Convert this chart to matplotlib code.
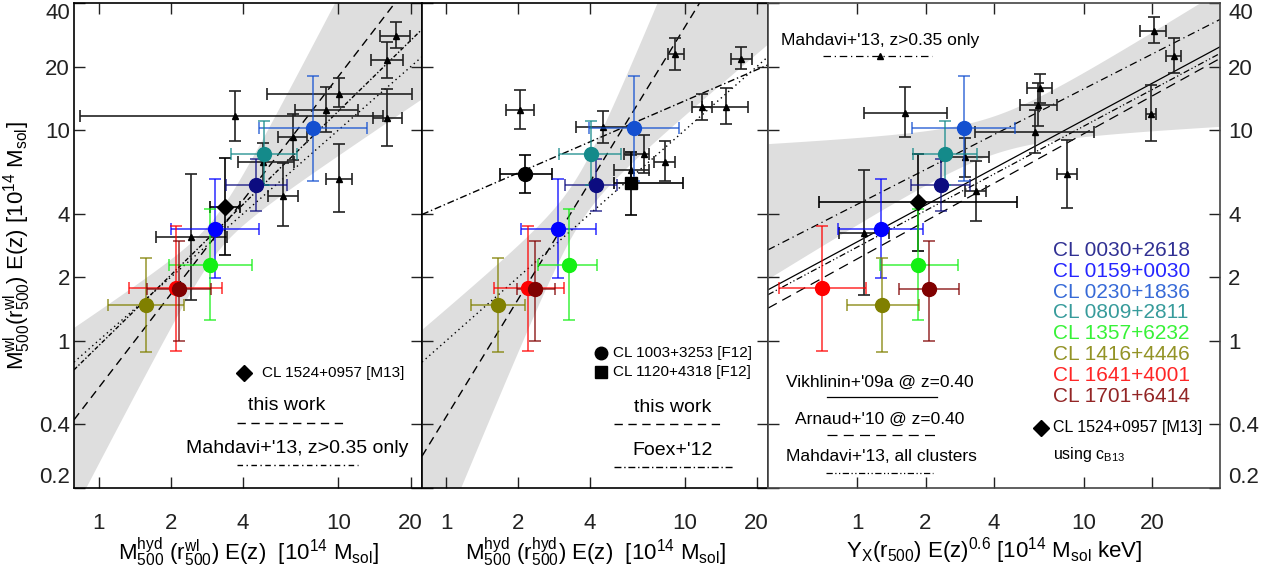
import numpy as np
import matplotlib
matplotlib.use("Agg")
import matplotlib.pyplot as plt
from matplotlib.ticker import NullLocator

plt.rcParams['font.family'] = ['Liberation Sans', 'DejaVu Sans']
plt.rcParams['mathtext.fontset'] = 'custom'
plt.rcParams['mathtext.rm'] = 'Liberation Sans'
plt.rcParams['mathtext.it'] = 'Liberation Sans:italic'

# clusters of this work (order: 0030, 0159, 0230, 0809, 1357, 1416, 1641, 1701)
names = ['CL 0030+2618', 'CL 0159+0030', 'CL 0230+1836', 'CL 0809+2811',
         'CL 1357+6232', 'CL 1416+4446', 'CL 1641+4001', 'CL 1701+6414']
colors = ['#0c0c80', '#0000ff', '#1450d0', '#148a8a',
          '#14f014', '#808000', '#ff0000', '#800000']
m_wl = [5.5, 3.4, 10.2, 7.7, 2.29, 1.47, 1.77, 1.755]
m_wl_lo = [4.13, 1.98, 5.7, 5.5, 1.25, 0.88, 0.89, 1.0]
m_wl_hi = [7.3, 5.86, 18.0, 11.1, 4.2, 2.46, 3.5, 2.98]

# left: M_hyd(r_wl)
mh_rwl = [4.53, 3.06, 7.8, 4.9, 2.92, 1.58, 2.1, 2.16]
mh_rwl_lo = [3.4, 2.0, 4.65, 3.55, 1.97, 1.09, 1.34, 1.59]
mh_rwl_hi = [6.1, 4.67, 13.1, 6.75, 4.38, 2.27, 3.27, 2.94]
# middle: M_hyd(r_hyd)
mh_rh = [4.22, 2.95, 6.14, 4.03, 3.25, 1.64, 2.2, 2.35]
mh_rh_lo = [3.14, 2.05, 3.95, 2.97, 2.43, 1.27, 1.59, 1.97]
mh_rh_hi = [5.2, 4.22, 9.44, 5.42, 4.28, 2.14, 3.12, 2.85]
# right: Y_X
yx = [2.33, 1.27, 2.96, 2.44, 1.86, 1.29, 0.70, 2.08]
yx_lo = [1.72, 0.82, 1.75, 1.77, 1.26, 0.90, 0.45, 1.53]
yx_hi = [3.14, 1.94, 4.96, 3.36, 2.77, 1.87, 1.09, 2.82]

# CL 1524+0957 [M13]
m13_left = dict(x=3.38, xlo=2.92, xhi=3.9, y=4.33, ylo=2.55, yhi=7.4)
m13_right = dict(x=1.86, xlo=0.68, xhi=5.08, y=4.54, ylo=2.67, yhi=7.7)

# F12 clusters (middle)
f12_1003 = dict(x=2.14, xlo=1.68, xhi=2.76, y=6.2, ylo=5.0, yhi=7.6)
f12_1120 = dict(x=5.93, xlo=5.04, xhi=9.84, y=5.6, ylo=3.95, yhi=7.9)

# Mahdavi+13 z>0.35 clusters
mah_l_x = [17.3, 15.9, 10.1, 8.9, 3.71, 16.0, 6.46, 4.87, 10.07, 5.87, 2.43]
mah_l_xlo = [14.9, 13.7, 5.03, 6.58, 0.84, 13.9, 5.62, 3.8, 8.9, 5.08, 1.73]
mah_l_xhi = [19.8, 18.5, 20.3, 12.05, 15.4, 18.4, 7.4, 6.5, 11.4, 6.78, 3.43]
mah_l_y = [28, 21.5, 14.9, 12.4, 11.6, 11.4, 9.3, 7.03, 5.85, 4.86, 3.1]
mah_l_ylo = [24.4, 17.6, 12.8, 9.8, 8.87, 8.4, 7.2, 5.48, 4.07, 3.5, 1.56]
mah_l_yhi = [32.6, 26.1, 17.6, 16, 15.3, 15.6, 11.9, 8.7, 8.55, 6.95, 6.18]

mah_m_x = [9.08, 17.2, 2.04, 11.8, 14.8, 4.55, 6.72, 8.26, 5.93]
mah_m_xlo = [8.46, 15.6, 1.78, 10.7, 11.8, 3.48, 5.53, 7.45, 5.04]
mah_m_xhi = [9.87, 19.1, 2.34, 13.0, 18.4, 6.14, 7.1, 9.1, 7.1]
mah_m_y = [22.9, 21.7, 12.4, 12.9, 12.9, 10.3, 7.7, 7.07, 6.46]
mah_m_ylo = [19.3, 19.4, 10.1, 11.2, 10.7, 8.7, 6.23, 5.73, 5.4]
mah_m_yhi = [27.4, 24.7, 15.5, 14.9, 15.8, 12.3, 9.47, 8.87, 7.6]

mah_r_x = [20.3, 24.9, 6.37, 6.27, 1.62, 19.7, 6.06, 2.98, 8.44, 3.34, 1.07]
mah_r_xlo = [17.7, 23.1, 5.62, 5.2, 1.07, 18.7, 3.3, 2.35, 7.6, 3.0, 0.83]
mah_r_xhi = [23.1, 26.9, 7.25, 7.62, 2.49, 20.8, 11.1, 3.81, 9.34, 3.71, 1.375]
mah_r_y = [29.6, 22.4, 15.8, 13.1, 12.1, 11.9, 9.8, 7.42, 6.18, 5.12, 3.23]
mah_r_ylo = [25.8, 18.6, 13.5, 10.4, 9.3, 8.87, 7.75, 6.0, 4.25, 3.7, 1.65]
mah_r_yhi = [34.5, 27.5, 18.4, 16.7, 16.1, 16.4, 12.4, 9.2, 8.97, 7.15, 6.46]

# fits in log-log: (intercept, slope)
fit_left_this = (-0.225, 1.48)
fit_left_mah = (-0.025, 1.115)
fit_mid_this = (-0.36, 1.85)
fit_mid_foex = (0.649, 0.49)
fit_vikh = (0.469, 0.579)
fit_arnaud = (0.388, 0.595)
fit_mah_all = (0.444, 0.575)
fit_mah_hiz = (0.647, 0.549)
# scatter bands: (intercept, slope, pivot log x, sigma_a, sigma_b)
band_left = (-0.225, 1.48, 0.49, 0.09, 0.72)
band_mid = (-0.36, 1.85, 0.55, 0.12, 0.9)
band_right = (0.758, 0.364, 0.6, 0.09, 0.31)

xlim_m = (0.79, 22.3)
xlim_y = (0.404, 39.8)
ylim = (0.2, 40)
xticks = [1, 2, 4, 10, 20]
yticks = [0.2, 0.4, 1, 2, 4, 10, 20, 40]
ytick_labels = ['0.2', '0.4', '1', '2', '4', '10', '20', '40']

fig = plt.figure(figsize=(12.77, 5.83), dpi=100)
ax1 = fig.add_axes([74 / 1277, 95.3 / 583, 348 / 1277, 484.4 / 583])
ax2 = fig.add_axes([422 / 1277, 95.3 / 583, 346 / 1277, 484.4 / 583])
ax3 = fig.add_axes([768 / 1277, 95.3 / 583, 452 / 1277, 484.4 / 583])


def draw_band(ax, xlim, p):
    a, b, x0, sa, sb = p
    lx = np.linspace(np.log10(xlim[0]), np.log10(xlim[1]), 300)
    c = a + b * lx
    w = np.sqrt(sa ** 2 + (sb * (lx - x0)) ** 2)
    ax.fill_between(10 ** lx, 10 ** (c - w), 10 ** (c + w), color='#dedede', lw=0, zorder=0)


def draw_fit(ax, xlim, p, **kw):
    lx = np.linspace(np.log10(xlim[0]), np.log10(xlim[1]), 50)
    ax.plot(10 ** lx, 10 ** (p[0] + p[1] * lx), color='k', zorder=2, **kw)


def asym(v, lo, hi):
    v = np.asarray(v, float)
    return [v - np.asarray(lo), np.asarray(hi) - v]


def draw_tri(ax, x, xlo, xhi, y, ylo, yhi):
    ax.errorbar(x, y, xerr=asym(x, xlo, xhi), yerr=asym(y, ylo, yhi), fmt='^', color='k',
                ecolor='#222222', ms=5, elinewidth=1.2, capsize=4, capthick=1.2, zorder=3)


def draw_clusters(ax, x, xlo, xhi):
    for i in range(len(names)):
        ax.errorbar(x[i], m_wl[i], xerr=[[x[i] - xlo[i]], [xhi[i] - x[i]]],
                    yerr=[[m_wl[i] - m_wl_lo[i]], [m_wl_hi[i] - m_wl[i]]], fmt='none',
                    ecolor=colors[i], alpha=0.7, elinewidth=1.3, capsize=4, capthick=1.3, zorder=4)
        ax.plot(x[i], m_wl[i], 'o', color=colors[i], ms=10, zorder=5)


def draw_single(ax, d, marker, ms):
    ax.errorbar(d['x'], d['y'], xerr=[[d['x'] - d['xlo']], [d['xhi'] - d['x']]],
                yerr=[[d['y'] - d['ylo']], [d['yhi'] - d['y']]], fmt=marker, color='k',
                ms=ms, elinewidth=1.2, capsize=4, capthick=1.2, zorder=4)


dash_this = (6, 4)
dash_mah = (3, 1.5, 1, 1.5)

# left panel
draw_band(ax1, xlim_m, band_left)
draw_fit(ax1, xlim_m, (0, 1), ls=(0, (1, 2.5)), lw=1)
draw_fit(ax1, xlim_m, fit_left_mah, ls=(0, dash_mah), lw=1)
draw_fit(ax1, xlim_m, fit_left_this, ls=(0, dash_this), lw=1)
draw_tri(ax1, mah_l_x, mah_l_xlo, mah_l_xhi, mah_l_y, mah_l_ylo, mah_l_yhi)
draw_single(ax1, m13_left, 'D', 8)
draw_clusters(ax1, mh_rwl, mh_rwl_lo, mh_rwl_hi)

# middle panel
draw_band(ax2, xlim_m, band_mid)
draw_fit(ax2, xlim_m, (0, 1), ls=(0, (1, 2.5)), lw=1)
draw_fit(ax2, xlim_m, fit_mid_foex, ls=(0, (5, 2, 1, 2)), lw=1)
draw_fit(ax2, xlim_m, fit_mid_this, ls=(0, dash_this), lw=1)
draw_tri(ax2, mah_m_x, mah_m_xlo, mah_m_xhi, mah_m_y, mah_m_ylo, mah_m_yhi)
draw_single(ax2, f12_1003, 'o', 10)
draw_single(ax2, f12_1120, 's', 9)
draw_clusters(ax2, mh_rh, mh_rh_lo, mh_rh_hi)

# right panel
draw_band(ax3, xlim_y, band_right)
draw_fit(ax3, xlim_y, fit_vikh, ls='-', lw=0.9)
draw_fit(ax3, xlim_y, fit_arnaud, ls=(0, (8, 5)), lw=0.9)
draw_fit(ax3, xlim_y, fit_mah_all, ls=(0, (5, 2, 1, 2, 1, 2)), lw=0.9)
draw_fit(ax3, xlim_y, fit_mah_hiz, ls=(0, (6, 3, 1, 3)), lw=0.9)
draw_tri(ax3, mah_r_x, mah_r_xlo, mah_r_xhi, mah_r_y, mah_r_ylo, mah_r_yhi)
draw_single(ax3, m13_right, 'D', 8)
draw_clusters(ax3, yx, yx_lo, yx_hi)

for ax, xl in ((ax1, xlim_m), (ax2, xlim_m), (ax3, xlim_y)):
    ax.set_xscale('log')
    ax.set_yscale('log')
    ax.set_xlim(xl)
    ax.set_ylim(ylim)
    ax.set_xticks(xticks)
    ax.set_xticklabels([str(t) for t in xticks])
    ax.set_yticks(yticks)
    ax.set_yticklabels(ytick_labels)
    ax.xaxis.set_minor_locator(NullLocator())
    ax.yaxis.set_minor_locator(NullLocator())
    ax.tick_params(direction='in', length=8, width=1, top=True, right=True,
                   labelsize=16, colors='#222222')
    ax.tick_params(axis='x', pad=18)
    for s in ax.spines.values():
        s.set_linewidth(1.2)

ax1.tick_params(axis='y', pad=3, labelleft=True, labelright=False)
ax2.tick_params(axis='y', labelleft=False, labelright=False)
ax3.tick_params(axis='y', pad=6, labelleft=False, labelright=True)
for s in ax3.spines.values():
    s.set_color('#444444')

# keep the end labels inside the figure, as in the original
ax1.yaxis.get_major_ticks()[-1].label1.set_va('top')
ax1.yaxis.get_major_ticks()[0].label1.set_va('bottom')
ax3.yaxis.get_major_ticks()[-1].label2.set_va('top')
ax3.yaxis.get_major_ticks()[0].label2.set_va('bottom')

ax1.set_ylabel(r'M$^{\rm wl}_{500}$(r$^{\rm wl}_{500}$) E(z) [10$^{14}$ M$_{\rm sol}$]',
               fontsize=16, labelpad=4)
ax1.set_xlabel(r'M$^{\rm hyd}_{500}$ (r$^{\rm wl}_{500}$) E(z)  [10$^{14}$ M$_{\rm sol}$]',
               fontsize=16, labelpad=1)
ax2.set_xlabel(r'M$^{\rm hyd}_{500}$ (r$^{\rm hyd}_{500}$) E(z)  [10$^{14}$ M$_{\rm sol}$]',
               fontsize=16, labelpad=1)
ax3.set_xlabel(r'Y$_{\rm X}$(r$_{500}$) E(z)$^{0.6}$ [10$^{14}$ M$_{\rm sol}$ keV]',
               fontsize=16, labelpad=1)

# left panel annotations
t1 = ax1.transAxes
ax1.plot([0.489], [0.236], 'D', color='k', ms=8, transform=t1)
ax1.text(0.54, 0.236, 'CL 1524+0957 [M13]', fontsize=11, va='center', transform=t1)
ax1.text(0.612, 0.169, 'this work', fontsize=14, ha='center', va='center', transform=t1)
ax1.plot([0.468, 0.787], [0.1336, 0.1336], color='k', lw=1, ls=(0, dash_this), transform=t1)
ax1.text(0.641, 0.080, "Mahdavi+'13, z>0.35 only", fontsize=14, ha='center', va='center', transform=t1)
ax1.plot([0.468, 0.816], [0.047, 0.047], color='k', lw=1, ls=(0, (4, 2.5, 1, 2.5)), transform=t1)

# middle panel annotations
t2 = ax2.transAxes
ax2.plot([0.517], [0.279], 'o', color='k', ms=9, transform=t2)
ax2.text(0.552, 0.279, 'CL 1003+3253 [F12]', fontsize=11, va='center', transform=t2)
ax2.plot([0.517], [0.238], 's', color='k', ms=8, transform=t2)
ax2.text(0.552, 0.238, 'CL 1120+4318 [F12]', fontsize=11, va='center', transform=t2)
ax2.text(0.725, 0.165, 'this work', fontsize=14, ha='center', va='center', transform=t2)
ax2.plot([0.555, 0.876], [0.1305, 0.1305], color='k', lw=1, ls=(0, dash_this), transform=t2)
ax2.text(0.725, 0.076, "Foex+'12", fontsize=14, ha='center', va='center', transform=t2)
ax2.plot([0.555, 0.899], [0.0427, 0.0427], color='k', lw=1, ls=(0, (5, 2, 1, 2)), transform=t2)

# right panel annotations
t3 = ax3.transAxes
ax3.text(0.248, 0.924, "Mahdavi+'13, z>0.35 only", fontsize=12.5, ha='center', va='center', transform=t3)
ax3.plot([0.122, 0.363], [0.891, 0.891], color='k', lw=0.9, ls=(0, (6, 3, 1, 3)), transform=t3)
ax3.plot([0.248], [0.891], '^', color='k', ms=5, transform=t3)
ax3.text(0.248, 0.218, "Vikhlinin+'09a @ z=0.40", fontsize=12.5, ha='center', va='center', transform=t3)
ax3.plot([0.13, 0.374], [0.187, 0.187], color='k', lw=0.9, transform=t3)
ax3.text(0.248, 0.142, "Arnaud+'10 @ z=0.40", fontsize=12.5, ha='center', va='center', transform=t3)
ax3.plot([0.13, 0.374], [0.109, 0.109], color='k', lw=0.9, ls=(0, (8, 5)), transform=t3)
ax3.text(0.25, 0.0635, "Mahdavi+'13, all clusters", fontsize=12.5, ha='center', va='center', transform=t3)
ax3.plot([0.128, 0.365], [0.0304, 0.0304], color='k', lw=0.9, ls=(0, (5, 2, 1, 2, 1, 2)), transform=t3)

rows = [0.4907, 0.4473, 0.404, 0.3617, 0.319, 0.2757, 0.2324, 0.189]
for name, col, yy in zip(names, colors, rows):
    ax3.text(0.631, yy, name, color=col, alpha=0.85, fontsize=15, va='center', transform=t3)
ax3.plot([0.604], [0.1233], 'D', color='k', ms=8, transform=t3)
ax3.text(0.631, 0.1233, 'CL 1524+0957 [M13]', fontsize=11.5, va='center', transform=t3)
ax3.text(0.631, 0.0676, r'using c$_{\rm B13}$', fontsize=11.5, va='center', transform=t3)

fig.savefig('out.png', dpi=100)
